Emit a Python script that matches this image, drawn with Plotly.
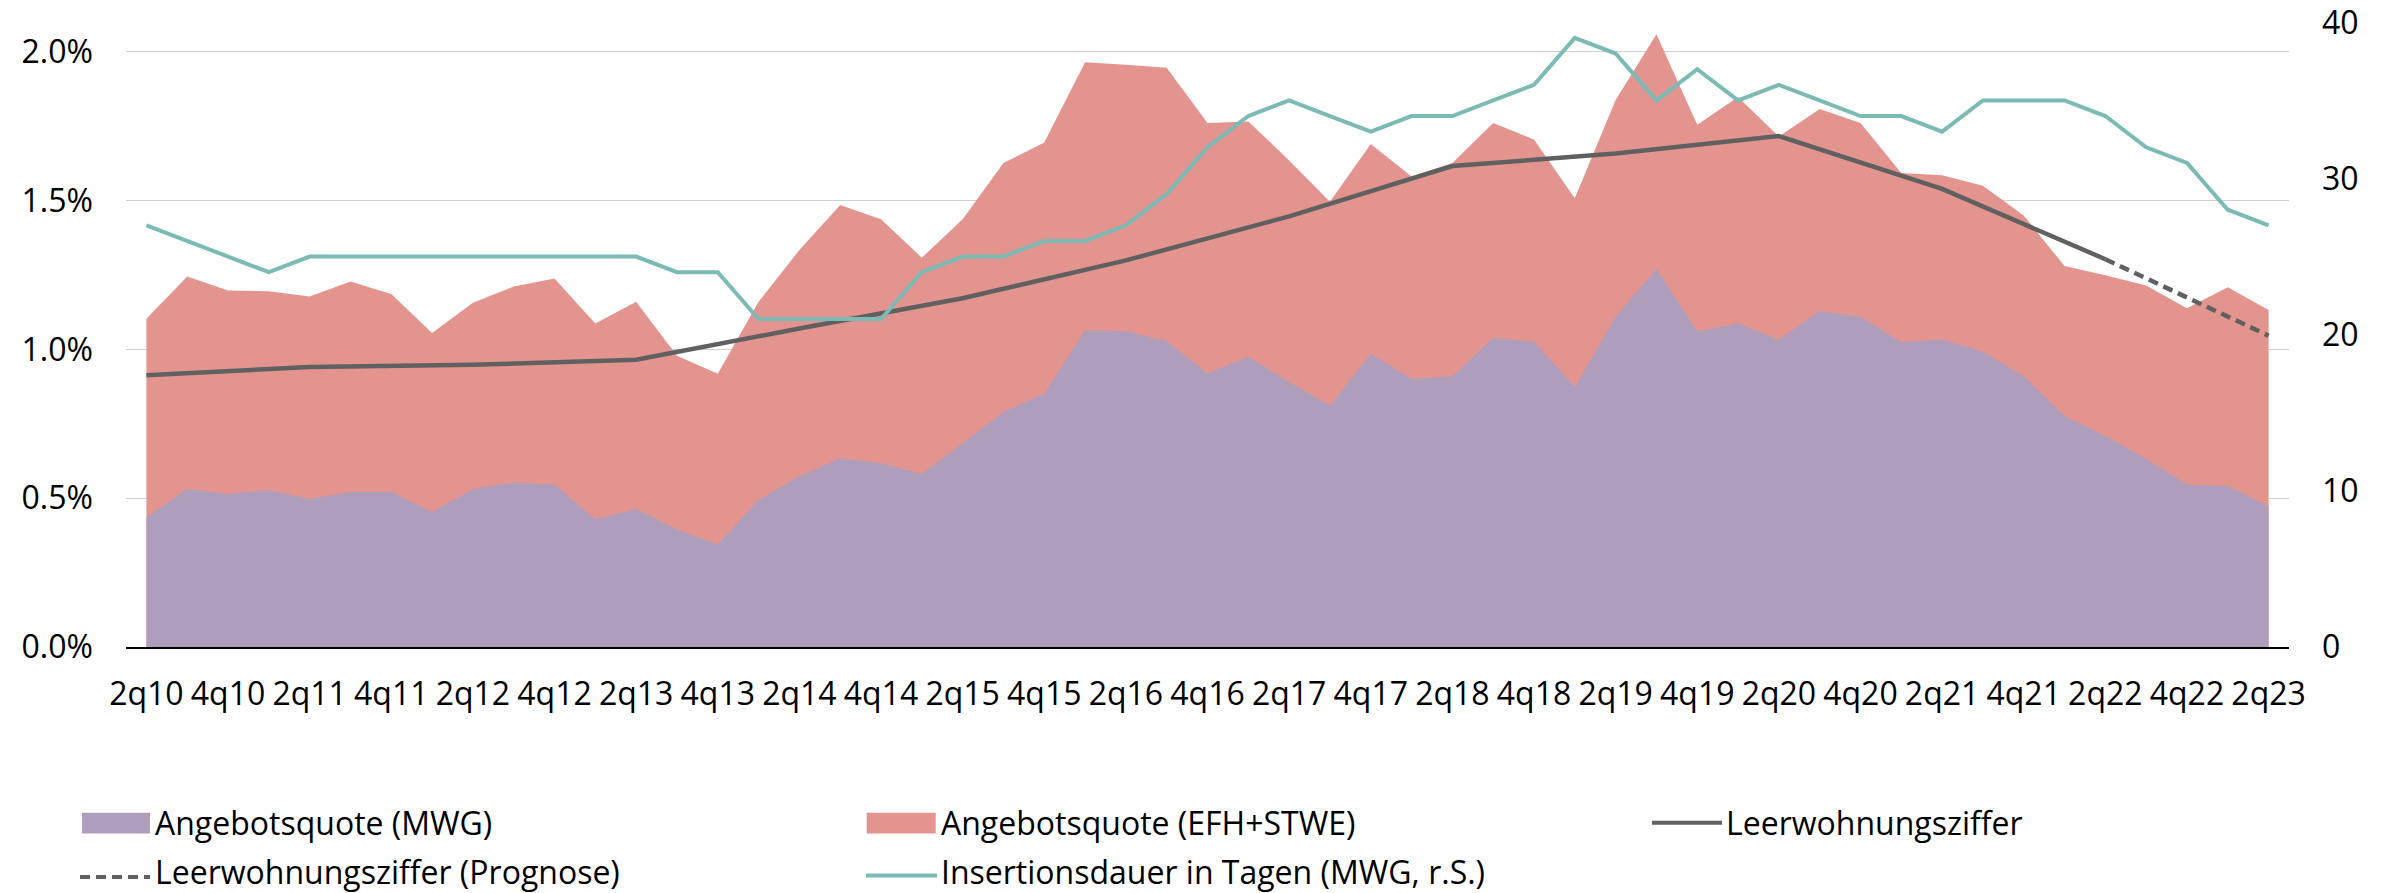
import plotly.graph_objects as go

# ---------------- data ----------------
quarters = ["2q10", "3q10", "4q10",
            "1q11", "2q11", "3q11", "4q11",
            "1q12", "2q12", "3q12", "4q12",
            "1q13", "2q13", "3q13", "4q13",
            "1q14", "2q14", "3q14", "4q14",
            "1q15", "2q15", "3q15", "4q15",
            "1q16", "2q16", "3q16", "4q16",
            "1q17", "2q17", "3q17", "4q17",
            "1q18", "2q18", "3q18", "4q18",
            "1q19", "2q19", "3q19", "4q19",
            "1q20", "2q20", "3q20", "4q20",
            "1q21", "2q21", "3q21", "4q21",
            "1q22", "2q22", "3q22", "4q22",
            "1q23", "2q23"]

tick_labels = ["2q10", "4q10", "2q11", "4q11", "2q12", "4q12", "2q13", "4q13",
               "2q14", "4q14", "2q15", "4q15", "2q16", "4q16", "2q17", "4q17",
               "2q18", "4q18", "2q19", "4q19", "2q20", "4q20", "2q21", "4q21",
               "2q22", "4q22", "2q23"]

# Angebotsquote MWG (in %)
angebot_mwg = [0.436, 0.531, 0.514,
               0.527, 0.497, 0.521, 0.521,
               0.453, 0.531, 0.552, 0.546,
               0.429, 0.464, 0.395, 0.344,
               0.494, 0.574, 0.634, 0.617,
               0.581, 0.685, 0.790, 0.851,
               1.064, 1.061, 1.027, 0.919,
               0.975, 0.890, 0.811, 0.985,
               0.901, 0.910, 1.039, 1.026,
               0.874, 1.110, 1.271, 1.060,
               1.087, 1.032, 1.129, 1.110,
               1.024, 1.033, 0.992, 0.910,
               0.776, 0.709, 0.632, 0.546,
               0.541, 0.473]

# Angebotsquote EFH+STWE (upper edge of the red area, in %)
angebot_efh = [1.103, 1.245, 1.198,
               1.195, 1.178, 1.228, 1.186,
               1.055, 1.157, 1.211, 1.238,
               1.087, 1.160, 0.979, 0.918,
               1.160, 1.334, 1.485, 1.437,
               1.308, 1.437, 1.626, 1.695,
               1.965, 1.956, 1.946, 1.761,
               1.766, 1.635, 1.496, 1.690,
               1.581, 1.626, 1.761, 1.705,
               1.508, 1.838, 2.059, 1.755,
               1.848, 1.715, 1.808, 1.761,
               1.593, 1.585, 1.550, 1.450,
               1.280, 1.249, 1.215, 1.138,
               1.209, 1.132]

# Insertionsdauer in Tagen (MWG, right axis)
insertionsdauer = [27, 26, 25,
                   24, 25, 25, 25,
                   25, 25, 25, 25,
                   25, 25, 24, 24,
                   21, 21, 21, 21,
                   24, 25, 25, 26,
                   26, 27, 29, 32,
                   34, 35, 34, 33,
                   34, 34, 35, 36,
                   39, 38, 35, 37,
                   35, 36, 35, 34,
                   34, 33, 35, 35,
                   35, 34, 32, 31,
                   28, 27]

# Leerwohnungsziffer (annual, at 2q)
leer_quarters = ["2q10", "2q11", "2q12", "2q13", "2q14", "2q15", "2q16",
                 "2q17", "2q18", "2q19", "2q20", "2q21", "2q22"]
leer_values = [0.913, 0.941, 0.948, 0.965, 1.070, 1.172, 1.299,
               1.447, 1.616, 1.658, 1.717, 1.539, 1.303]

prognose_quarters = ["2q22", "2q23"]
prognose_values = [1.303, 1.046]

left_ticks = [0, 0.5, 1.0, 1.5, 2.0]
left_tick_text = ["0.0%", "0.5%", "1.0%", "1.5%", "2.0%"]
right_ticks = [0, 10, 20, 30, 40]

legend_names = ["Angebotsquote (MWG)", "Angebotsquote (EFH+STWE)", "Leerwohnungsziffer",
                "Leerwohnungsziffer (Prognose)", "Insertionsdauer in Tagen (MWG, r.S.)"]

# ---------------- style ----------------
C_MWG = "#AE9EBC"
C_EFH = "#E4948F"
C_LEER = "#606060"
C_INS = "#7BBAB5"
FONT = "Open Sans"
FS = 32

W, H = 2395, 893
ML, MR, MT, MB = 126, 106, 22, 246
PW = W - ML - MR
PH = H - MT - MB

fig = go.Figure()

fig.add_trace(go.Scatter(x=quarters, y=angebot_efh, mode="lines", fill="tozeroy",
                         fillcolor=C_EFH, line=dict(width=0, color=C_EFH),
                         name=legend_names[1], showlegend=False))
fig.add_trace(go.Scatter(x=quarters, y=angebot_mwg, mode="lines", fill="tozeroy",
                         fillcolor=C_MWG, line=dict(width=0, color=C_MWG),
                         name=legend_names[0], showlegend=False))
fig.add_trace(go.Scatter(x=leer_quarters, y=leer_values, mode="lines",
                         line=dict(width=4.5, color=C_LEER),
                         name=legend_names[2], showlegend=False))
fig.add_trace(go.Scatter(x=prognose_quarters, y=prognose_values, mode="lines",
                         line=dict(width=4.5, color=C_LEER, dash="10px,6px"),
                         name=legend_names[3], showlegend=False))
fig.add_trace(go.Scatter(x=quarters, y=insertionsdauer, mode="lines", yaxis="y2",
                         line=dict(width=4, color=C_INS),
                         name=legend_names[4], showlegend=False))


# ---------------- manual legend (pixel positions converted to paper) ----------------
def px(x):
    return (x - ML) / PW


def py(y):
    return (H - MB - y) / PH


shapes = []
annotations = []


def legend_box(x0, x1, y0, y1, color):
    shapes.append(dict(type="rect", xref="paper", yref="paper",
                       x0=px(x0), x1=px(x1), y0=py(y1), y1=py(y0),
                       fillcolor=color, line=dict(width=0), layer="above"))


def legend_line(x0, x1, y, color, width, dash="solid"):
    shapes.append(dict(type="line", xref="paper", yref="paper",
                       x0=px(x0), x1=px(x1), y0=py(y), y1=py(y),
                       line=dict(color=color, width=width, dash=dash), layer="above"))


def legend_text(x, y, text):
    annotations.append(dict(xref="paper", yref="paper", x=px(x), y=py(y),
                            text=text, showarrow=False, xanchor="left", yanchor="middle",
                            borderpad=0,
                            font=dict(family=FONT, size=FS, color="black")))


legend_box(82, 150, 812.7, 833.5, C_MWG)
legend_text(154, 822, legend_names[0])
legend_box(866.7, 935.7, 812.7, 833.5, C_EFH)
legend_text(940, 822, legend_names[1])
legend_line(1652, 1722, 822.7, C_LEER, 4)
legend_text(1725, 822, legend_names[2])
legend_line(80, 150, 877, C_LEER, 4, "10px,6px")
legend_text(154, 871, legend_names[3])
legend_line(866, 937, 875.5, C_INS, 4)
legend_text(940, 871, legend_names[4])

fig.update_layout(
    template="none",
    width=W, height=H,
    margin=dict(l=ML, r=MR, t=MT, b=MB, pad=0, autoexpand=False),
    paper_bgcolor="white", plot_bgcolor="white",
    font=dict(family=FONT, size=FS, color="black"),
    showlegend=False,
    shapes=shapes,
    annotations=annotations,
    xaxis=dict(type="category", categoryorder="array", categoryarray=quarters,
               range=[-0.5, len(quarters) - 0.5], automargin=False,
               tickmode="array", tickvals=tick_labels, ticktext=tick_labels,
               showgrid=False, zeroline=False,
               showline=True, linecolor="black", linewidth=2,
               ticks="", ticklabelstandoff=18,
               tickfont=dict(family=FONT, size=FS, color="black")),
    yaxis=dict(range=[0, 2.1], tickmode="array", automargin=False,
               tickvals=left_ticks, ticktext=left_tick_text,
               showgrid=True, gridcolor="#D0D0D0", gridwidth=1.3,
               zeroline=False, showline=False, ticks="",
               ticklabelstandoff=32, ticklabeloverflow="allow",
               tickfont=dict(family=FONT, size=FS, color="black")),
    yaxis2=dict(range=[0, 40.02], overlaying="y", side="right", automargin=False,
                tickmode="array", tickvals=right_ticks,
                showgrid=False, zeroline=False, showline=False, ticks="",
                ticklabelstandoff=32, ticklabeloverflow="allow",
                tickfont=dict(family=FONT, size=FS, color="black")),
)

fig.write_html(
    "out.html",
    config={"displayModeBar": False},
    post_script="document.body.style.margin='0';document.body.style.overflow='hidden';",
)
